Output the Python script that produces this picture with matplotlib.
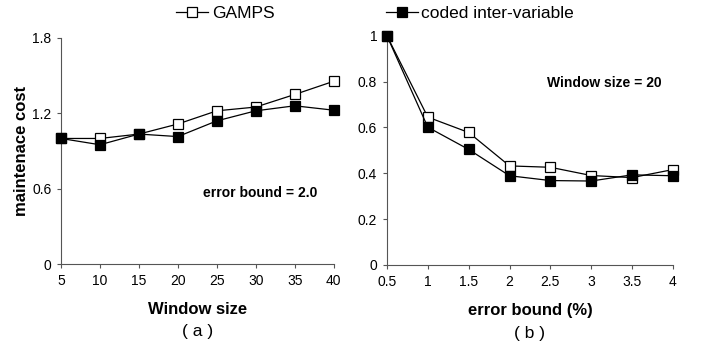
import numpy as np
import matplotlib.pyplot as plt

plt.rcParams['font.family'] = ['Liberation Sans', 'DejaVu Sans']

# (a) 误差界 = 2.0
window_size = [5, 10, 15, 20, 25, 30, 35, 40]
gamps_a = [1.0, 1.0, 1.035, 1.115, 1.22, 1.25, 1.35, 1.455]
coded_a = [1.0, 0.95, 1.035, 1.015, 1.14, 1.22, 1.26, 1.225]

# (b) 窗口大小 = 20
error_bound = [0.5, 1, 1.5, 2, 2.5, 3, 3.5, 4]
gamps_b = [1.0, 0.645, 0.578, 0.432, 0.426, 0.39, 0.381, 0.416]
coded_b = [1.0, 0.601, 0.504, 0.389, 0.368, 0.366, 0.393, 0.389]

fig = plt.figure(figsize=(7.01, 3.48), dpi=100)
ax1 = fig.add_axes([0.087, 0.241, 0.389, 0.65])
ax2 = fig.add_axes([0.552, 0.239, 0.408, 0.658])

mk = dict(color='black', lw=0.9, markersize=7.5, markeredgewidth=0.9, clip_on=False)

for ax, x, g, c in [(ax1, window_size, gamps_a, coded_a), (ax2, error_bound, gamps_b, coded_b)]:
    ax.plot(x, g, marker='s', markerfacecolor='white', label='GAMPS', zorder=3, **mk)
    ax.plot(x, c, marker='s', markerfacecolor='black', label='coded inter-variable', zorder=4, **mk)
    ax.spines['top'].set_visible(False)
    ax.spines['right'].set_visible(False)
    ax.spines['left'].set_color('#555555')
    ax.spines['bottom'].set_color('#555555')
    ax.tick_params(direction='out', length=3, width=0.8, color='#555555', labelsize=10, pad=4)
    ax.set_xticks(x)
    ax.set_xlim(x[0], x[-1])

ax1.set_ylim(0, 1.8)
ax1.set_yticks([0, 0.6, 1.2, 1.8])
ax1.set_yticklabels(['0', '0.6', '1.2', '1.8'])
ax1.set_xticklabels([str(v) for v in window_size])
ax1.set_ylabel('maintenace cost', fontsize=12, fontweight='bold')
ax1.yaxis.set_label_coords(-0.116, 0.5)
ax1.text(0.52, 0.315, 'error bound = 2.0', transform=ax1.transAxes, fontsize=10,
         fontweight='bold', va='center')

ax2.set_ylim(0, 1)
ax2.set_yticks([0, 0.2, 0.4, 0.6, 0.8, 1])
ax2.set_yticklabels(['0', '0.2', '0.4', '0.6', '0.8', '1'])
ax2.set_xticklabels(['0.5', '1', '1.5', '2', '2.5', '3', '3.5', '4'])
ax2.text(0.56, 0.795, 'Window size = 20', transform=ax2.transAxes, fontsize=10,
         fontweight='bold', va='center')

# 粗体标题行 + 普通的 (a)/(b)
for ax, lab, sub in [(ax1, 'Window size', '( a )'), (ax2, 'error bound (%)', '( b )')]:
    ax.text(0.5, -0.2, lab, transform=ax.transAxes, ha='center', va='center',
            fontsize=12, fontweight='bold')
    ax.text(0.5, -0.3, sub, transform=ax.transAxes, ha='center', va='center', fontsize=12.5)

h, l = ax1.get_legend_handles_labels()
fig.legend(h, l, loc='center', bbox_to_anchor=(0.535, 0.96), ncol=2, frameon=False,
           fontsize=12.5, columnspacing=6.4, handlelength=1.85, handletextpad=0.2)

plt.savefig('out.png', dpi=100)
